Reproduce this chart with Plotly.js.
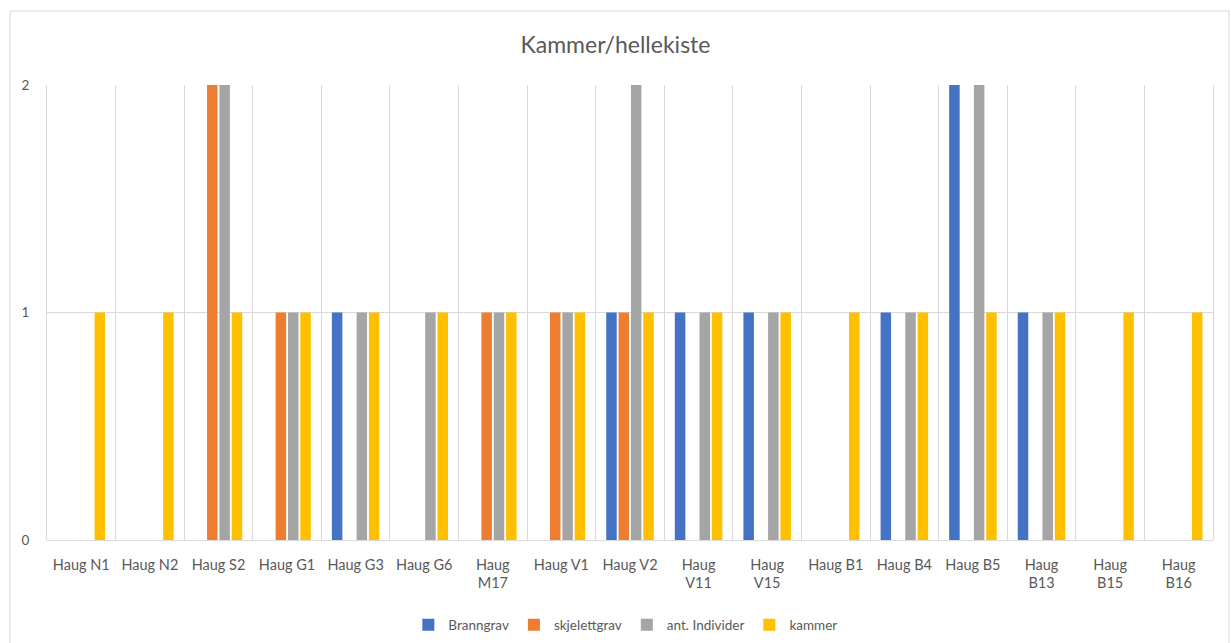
<!DOCTYPE html>
<html>
<head>
<meta charset="utf-8">
<script src="https://cdn.plot.ly/plotly-3.0.1.min.js"></script>
<style>
html,body{margin:0;padding:0;background:#fff;}
#chart{width:1231px;height:643px;}
</style>
</head>
<body>
<div id="chart"></div>
<script>
const categories = ["Haug N1","Haug N2","Haug S2","Haug G1","Haug G3","Haug G6","Haug M17","Haug V1","Haug V2","Haug V11","Haug V15","Haug B1","Haug B4","Haug B5","Haug B13","Haug B15","Haug B16"];
const tickLabels = ["Haug N1","Haug N2","Haug S2","Haug G1","Haug G3","Haug G6","Haug<br>M17","Haug V1","Haug V2","Haug<br>V11","Haug<br>V15","Haug B1","Haug B4","Haug B5","Haug<br>B13","Haug<br>B15","Haug<br>B16"];
const branngrav    = [0,0,0,0,1,0,0,0,1,1,1,0,1,2,1,0,0];
const skjelettgrav = [0,0,2,1,0,0,1,1,1,0,0,0,0,0,0,0,0];
const antIndivider = [0,0,2,1,1,1,1,1,2,1,1,0,1,2,1,0,0];
const kammer       = [1,1,1,1,1,1,1,1,1,1,1,1,1,1,1,1,1];
const seriesNames = ["Branngrav","skjelettgrav","ant. Individer","kammer"];
const colors = ["#4472C4","#ED7D31","#A5A5A5","#FFC000"];
const seriesValues = [branngrav, skjelettgrav, antIndivider, kammer];

const traces = seriesValues.map((vals, i) => ({
  type: 'bar',
  name: seriesNames[i],
  x: categories,
  y: vals,
  marker: {color: colors[i]},
  hoverinfo: 'x+y+name'
}));

const font = "Lato, 'Open Sans', sans-serif";
const layout = {
  width: 1231, height: 643,
  margin: {l: 47, r: 18, t: 85, b: 103},
  paper_bgcolor: '#fff', plot_bgcolor: '#fff',
  barmode: 'group',
  bargap: 0.28,
  bargroupgap: 0.15,
  font: {family: font, color: '#595959', size: 12},
  title: {text: 'Kammer/hellekiste', font: {family: font, size: 23, color: '#595959'}, x: 0.5, xanchor: 'center', y: 0.93, yanchor: 'middle'},
  xaxis: {
    type: 'category',
    tickvals: categories,
    ticktext: tickLabels,
    tickson: 'boundaries',
    showgrid: true,
    gridcolor: '#D9D9D9',
    gridwidth: 1,
    ticks: '',
    showline: false,
    zeroline: false,
    ticklabelstandoff: 14,
    tickfont: {family: font, size: 14.5, color: '#595959'},
    automargin: false,
    fixedrange: true
  },
  yaxis: {
    range: [0, 2],
    tickvals: [0, 1, 2],
    showgrid: true,
    gridcolor: '#D9D9D9',
    zeroline: true,
    zerolinecolor: '#D9D9D9',
    showline: true,
    mirror: true,
    linecolor: '#D9D9D9',
    linewidth: 1,
    ticks: '',
    ticklabelstandoff: 14,
    tickfont: {family: font, size: 13.5, color: '#595959'},
    automargin: false,
    fixedrange: true
  },
  legend: {
    orientation: 'h',
    xref: 'container', yref: 'container',
    x: 0.508, xanchor: 'center',
    y: 0.028, yanchor: 'middle',
    font: {family: font, size: 13.5, color: '#595959'},
    itemwidth: 30,
    traceorder: 'normal'
  },
  shapes: [{
    type: 'rect', xref: 'paper', yref: 'paper',
    x0: -0.0317, x1: 1.0137, y0: -0.26, y1: 1.1626,
    line: {color: '#D9D9D9', width: 1}, fillcolor: 'rgba(0,0,0,0)', layer: 'below'
  }]
};

Plotly.newPlot('chart', traces, layout, {displayModeBar: false, staticPlot: true});
</script>
</body>
</html>
